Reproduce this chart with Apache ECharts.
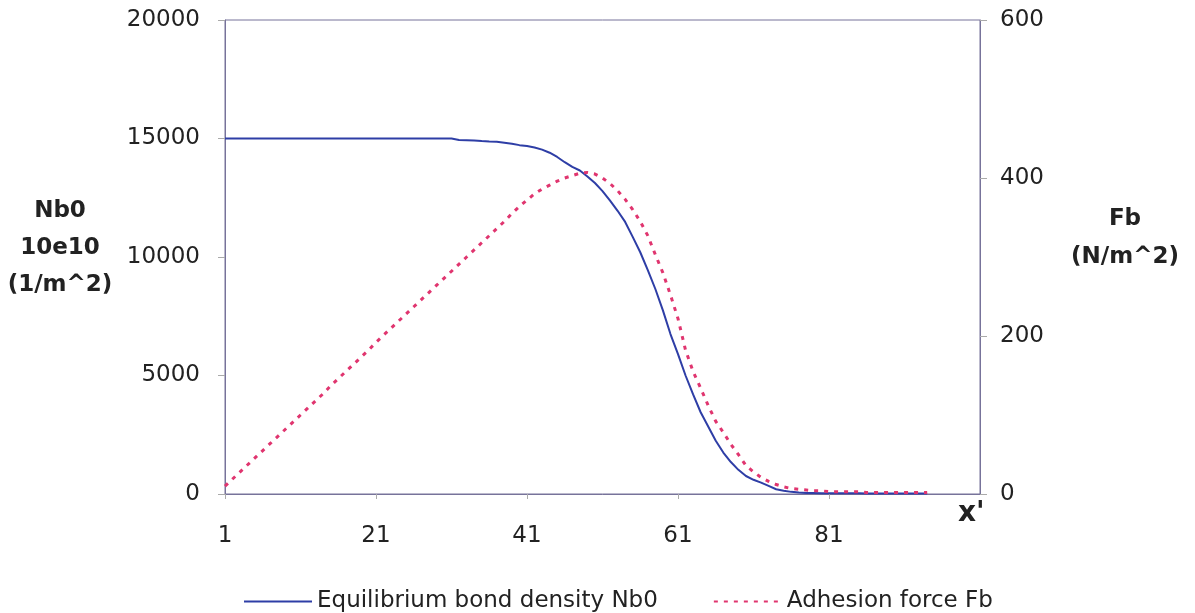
<!DOCTYPE html>
<html>
<head>
<meta charset="utf-8">
<script src="https://cdn.jsdelivr.net/npm/echarts@6/dist/echarts.min.js"></script>
<style>
  html, body { margin: 0; padding: 0; background: #ffffff; }
  #chart { width: 1195px; height: 613px; }
</style>
</head>
<body>
<div id="chart"></div>
<script>
// x' positions 1..101 (axis spans 100 steps)
const categories = [];
for (let i = 1; i <= 101; i++) categories.push(String(i));
const xTickLabels = ['1', '21', '41', '61', '81'];

const leftTicks = [0, 5000, 10000, 15000, 20000];
const rightTicks = [0, 200, 400, 600];

// Equilibrium bond density Nb0 (x' = 1..94)
const nb0 = [
  15000, 15000, 15000, 15000, 15000, 15000, 15000, 15000, 15000, 15000,
  15000, 15000, 15000, 15000, 15000, 15000, 15000, 15000, 15000, 15000,
  15000, 15000, 15000, 15000, 15000, 15000, 15000, 15000, 15000, 15000,
  15000,
  14940, 14930, 14920, 14890, 14870, 14860, 14820, 14780, 14720, 14680,
  14620, 14530, 14400, 14220, 14000, 13800, 13650, 13400, 13120, 12780,
  12380, 11950, 11480, 10850, 10200, 9450, 8650, 7750, 6750, 5900,
  5000, 4200, 3450, 2850, 2250, 1750, 1350, 1020, 760, 600,
  480, 340, 200, 140, 90, 60, 45, 40,
  35, 33, 30, 30, 28, 28, 26, 25, 25, 24, 22, 22, 20, 20, 20
];

// Adhesion force Fb (x' = 1..94)
const fb = [
  10, 19, 28, 37, 46, 55, 64, 73, 82, 91,
  100, 109, 118, 127, 137, 146, 155, 164, 173, 182,
  192, 201, 210, 219, 228, 237, 246, 255, 264, 273,
  282, 291, 300, 309, 318, 327, 336, 345, 355, 364,
  372, 380, 386, 391, 396, 400, 403, 406, 407, 405,
  400, 393, 384, 373, 360, 345, 327, 303, 280, 252,
  222, 182, 155, 134, 112, 92, 78, 63, 50, 36,
  28, 21, 16, 12, 9, 7, 6, 5, 4, 4,
  3, 3, 3, 3, 3, 2, 2, 2, 2, 2, 2, 2, 2, 2
];

const FONT = 'DejaVu Sans';
const AXIS_COLOR = '#77739a';
const TEXT_COLOR = '#222222';

const chart = echarts.init(document.getElementById('chart'));
const showTick = (idx, val) => xTickLabels.indexOf(String(val)) >= 0;
const plain = (v) => String(v);

const nameStyle = (lh, spacer) => ({
  fontFamily: FONT, fontSize: 23, fontWeight: 'bold', color: TEXT_COLOR, align: 'center',
  rich: {
    n: { fontFamily: FONT, fontSize: 23, fontWeight: 'bold', color: TEXT_COLOR, lineHeight: lh, align: 'center' },
    s: { fontFamily: FONT, fontSize: 10, lineHeight: spacer, align: 'center' }
  }
});

chart.setOption({
  animation: false,
  backgroundColor: '#ffffff',
  grid: {
    left: 225, right: 215, top: 20, bottom: 119,
    show: true, borderColor: AXIS_COLOR, borderWidth: 1, backgroundColor: 'transparent'
  },
  legend: {
    left: 238, top: 585,
    itemWidth: 68, itemHeight: 14, itemGap: 55,
    itemStyle: { opacity: 0 },
    textStyle: { fontFamily: FONT, fontSize: 23, color: TEXT_COLOR },
    data: ['Equilibrium bond density Nb0', 'Adhesion force Fb']
  },
  xAxis: {
    type: 'category',
    data: categories,
    boundaryGap: false,
    name: "x'",
    nameLocation: 'end',
    nameGap: -22,
    nameTextStyle: { fontFamily: FONT, fontSize: 28, fontWeight: 'bold', color: TEXT_COLOR, verticalAlign: 'top', padding: [6, 0, 0, 0] },
    axisLine: { lineStyle: { color: AXIS_COLOR, width: 1 } },
    axisTick: { show: true, interval: showTick, length: 5, inside: false, lineStyle: { color: '#aaaaaa' } },
    axisLabel: { interval: showTick, margin: 31, fontFamily: FONT, fontSize: 23, color: TEXT_COLOR },
    splitLine: { show: false }
  },
  yAxis: [
    {
      type: 'value', min: leftTicks[0], max: leftTicks[leftTicks.length - 1], interval: 5000,
      name: '{n|Nb0}\n{n|10e10}\n{n|(1/m^2)}\n{s| }',
      nameLocation: 'middle', nameRotate: 0, nameGap: 165,
      nameTextStyle: nameStyle(37, 18),
      axisLine: { show: true, lineStyle: { color: AXIS_COLOR, width: 1 } },
      axisTick: { show: true, length: 7, lineStyle: { color: '#aaaaaa' } },
      axisLabel: { margin: 25, fontFamily: FONT, fontSize: 23, color: TEXT_COLOR, formatter: plain },
      splitLine: { show: false }
    },
    {
      type: 'value', min: rightTicks[0], max: rightTicks[rightTicks.length - 1], interval: 200,
      position: 'right',
      name: '{n|Fb}\n{n|(N/m^2)}\n{s| }',
      nameLocation: 'middle', nameRotate: 0, nameGap: 145,
      nameTextStyle: nameStyle(38, 38),
      axisLine: { show: true, lineStyle: { color: AXIS_COLOR, width: 1 } },
      axisTick: { show: true, length: 7, lineStyle: { color: '#aaaaaa' } },
      axisLabel: { margin: 20, fontFamily: FONT, fontSize: 23, color: TEXT_COLOR, formatter: plain },
      splitLine: { show: false }
    }
  ],
  series: [
    {
      name: 'Equilibrium bond density Nb0',
      type: 'line',
      yAxisIndex: 0,
      data: nb0,
      symbol: 'none',
      smooth: false,
      lineStyle: { color: '#2e3ea6', width: 2 },
      itemStyle: { color: '#2e3ea6' }
    },
    {
      name: 'Adhesion force Fb',
      type: 'line',
      yAxisIndex: 1,
      data: fb,
      symbol: 'none',
      smooth: false,
      lineStyle: { color: '#e0356f', width: 3, type: [4, 6] },
      itemStyle: { color: '#e0356f' }
    }
  ]
});
</script>
</body>
</html>
